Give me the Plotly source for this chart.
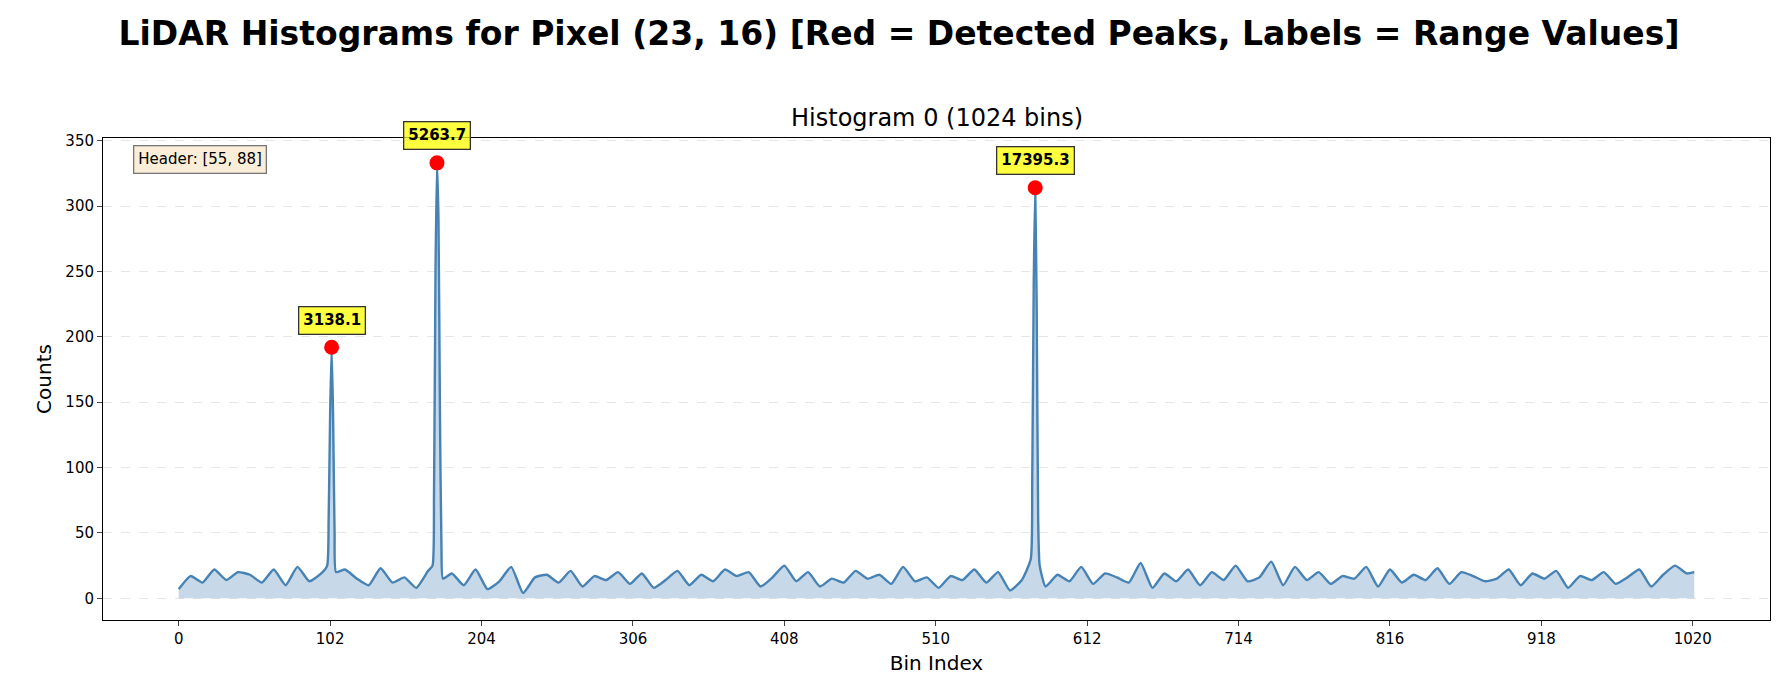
import plotly.graph_objects as go

# background noise, one value every 8 bins
noise_bins = list(range(0, 1024, 8))
noise_counts = [7, 17, 12, 22, 14, 20, 18, 12, 22, 10, 24, 13, 19, 11, 22, 15,
                10, 23, 12, 16, 8, 21, 14, 19, 10, 22, 7, 13, 24, 4, 16, 18,
                12, 21, 9, 17, 14, 20, 11, 19, 8, 14, 21, 10, 18, 13, 22, 17,
                20, 9, 16, 25, 13, 20, 9, 15, 12, 21, 15, 18, 11, 24, 13, 16,
                8, 17, 14, 22, 12, 20, 6, 14, 23, 9, 18, 13, 24, 11, 19, 16,
                12, 27, 8, 19, 13, 22, 10, 20, 14, 25, 13, 16, 28, 10, 24, 14,
                20, 11, 17, 15, 24, 9, 22, 12, 18, 14, 23, 11, 20, 17, 13, 15,
                22, 10, 19, 15, 21, 8, 17, 14, 20, 11, 16, 22, 9, 18, 25, 19]

# detected peaks and their shoulders
peak_bins = [100, 101, 102, 103, 104, 105, 106,
             171, 172, 173, 174, 175, 176, 177, 178,
             574, 575, 576, 577, 578, 579, 580]
peak_counts = [25, 60, 140, 192, 140, 50, 20,
               25, 80, 250, 333, 290, 140, 40, 15,
               30, 90, 240, 314, 220, 60, 25]

detected_bins = [103, 174, 577]
detected_counts = [192, 333, 314]
range_labels = ["3138.1", "5263.7", "17395.3"]

pts = {}
for b, c in zip(noise_bins, noise_counts):
    pts[b] = c
for b in list(pts):
    if any(abs(b - p) < 5 for p in detected_bins):
        del pts[b]
for b, c in zip(peak_bins, peak_counts):
    pts[b] = c
pts[1021] = 20
xs = sorted(pts)
ys = [pts[b] for b in xs]

fig = go.Figure()
fig.add_trace(go.Scatter(x=xs, y=ys, mode="lines", fill="tozeroy",
                         fillcolor="rgba(70,130,180,0.3)",
                         line=dict(color="#4682b4", width=2.4, shape="spline", smoothing=0.5),
                         showlegend=False))
fig.add_trace(go.Scatter(x=detected_bins, y=detected_counts, mode="markers",
                         marker=dict(color="red", size=15), showlegend=False))

for b, c, lab in zip(detected_bins, detected_counts, range_labels):
    fig.add_annotation(x=b, y=c, text="<b>" + lab + "</b>", showarrow=False, yshift=27,
                       bgcolor="rgba(255,255,0,0.75)", bordercolor="#333", borderwidth=1.3,
                       borderpad=4, font=dict(size=15, color="black"))

fig.add_annotation(xref="paper", yref="paper", x=0.018, y=0.985, xanchor="left", yanchor="top",
                   text="Header: [55, 88]", showarrow=False,
                   bgcolor="rgba(245,222,179,0.5)", bordercolor="#777", borderwidth=1.3,
                   borderpad=4, font=dict(size=15, color="black"))
fig.add_annotation(xref="paper", yref="paper", x=0.5, y=1.0, yanchor="bottom", yshift=4,
                   text="Histogram 0 (1024 bins)", showarrow=False, font=dict(size=24))

fig.update_layout(
    width=1782, height=700,
    margin=dict(l=95, r=20, t=130, b=88),
    plot_bgcolor="white", paper_bgcolor="white",
    font=dict(family="DejaVu Sans", color="black", size=15),
    title=dict(text="<b>LiDAR Histograms for Pixel (23, 16) [Red = Detected Peaks, Labels = Range Values]</b>",
               x=0.5, y=0.98, xanchor="center", font=dict(size=33)),
)
fig.update_xaxes(range=[-51, 1072], tickvals=list(range(0, 1021, 102)), title_text="Bin Index",
                 title_font=dict(size=20), title_standoff=8, showgrid=False, showline=True,
                 linecolor="black", mirror=True, ticks="outside", zeroline=False)
fig.update_yaxes(range=[-16.6, 352], dtick=50, title_text="Counts", title_font=dict(size=20),
                 title_standoff=8, showgrid=True, gridcolor="#e6e6e6", griddash="dash", showline=True,
                 linecolor="black", mirror=True, ticks="outside", zeroline=False)

fig.write_html("out.html")
